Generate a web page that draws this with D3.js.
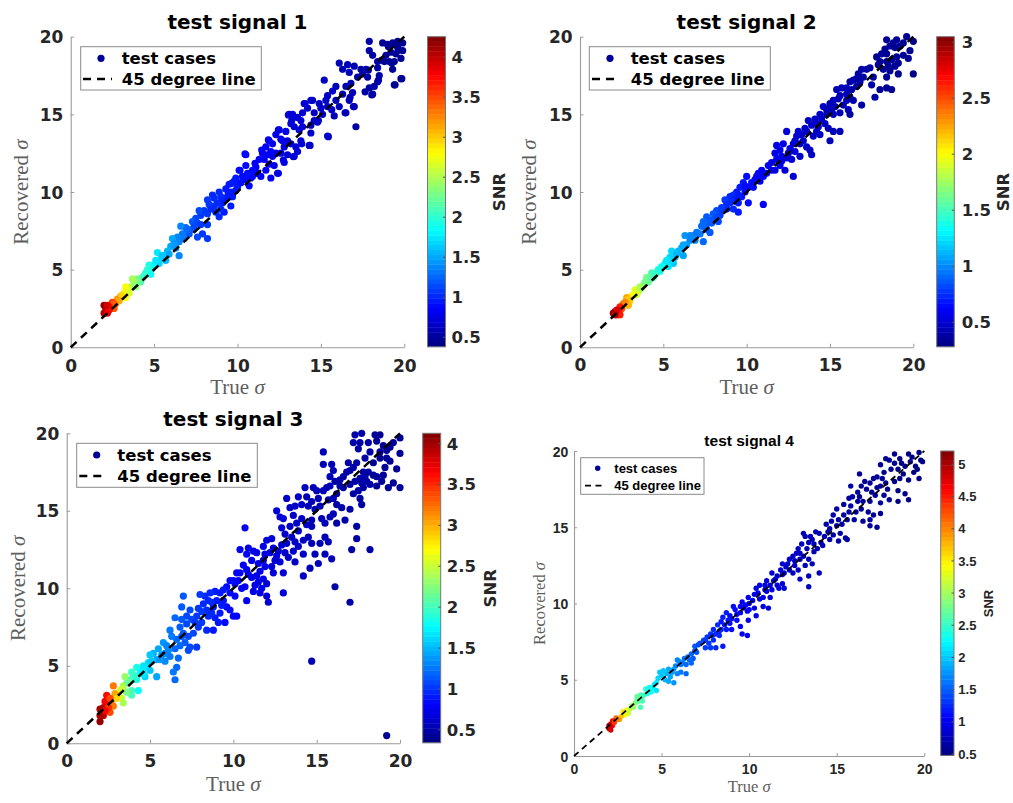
<!DOCTYPE html>
<html>
<head>
<meta charset="utf-8">
<script src="https://cdn.jsdelivr.net/npm/d3@7"></script>
<style>body{margin:0;background:#fff}</style>
</head>
<body>
<svg id="chart" width="1013" height="803"></svg>
<script>
// [true sigma, recovered sigma, SNR]
const signal1 = [
  [17.9,19.7,.52],[17.9,19.1,.52],[18.1,18.8,.51],[18.7,19.6,.49],[19.0,19.5,.48],[19.3,19.6,.47],[19.6,19.7,.46],[19.9,19.6,.45],[19.9,19.1,.45],[19.8,18.6,.45],
  [19.5,18.9,.46],[19.2,19.0,.47],[18.9,18.8,.48],[19.1,18.4,.48],[19.4,18.4,.47],[18.4,18.4,.5],[18.4,18.0,.5],[19.3,17.9,.47],[19.4,16.9,.47],[19.8,17.3,.45],
  [16.6,18.2,.58],[17.0,18.1,.56],[16.7,17.7,.57],[16.1,18.3,.6],[16.3,17.9,.59],[17.5,17.6,.54],[17.7,17.9,.53],[17.8,17.4,.53],[17.9,16.7,.52],[18.1,16.3,.51],
  [18.2,16.8,.51],[18.4,17.1,.5],[18.5,17.5,.5],[17.2,17.4,.55],[16.8,17.0,.57],[16.5,16.8,.58],[16.9,16.4,.56],[16.7,15.9,.57],[17.0,15.5,.56],[16.5,15.1,.58],
  [17.1,14.2,.55],[15.9,16.8,.61],[15.7,16.5,.62],[15.9,15.9,.61],[16.1,15.5,.6],[15.8,14.9,.61],[15.4,16.2,.63],[15.2,17.2,.63],[15.3,15.9,.63],[15.4,15.5,.63],
  [15.1,15.0,.64],[14.9,15.7,.65],[14.8,14.5,.65],[14.6,15.1,.66],[14.4,15.9,.67],[14.2,15.4,.67],[14.0,15.7,.68],[15.4,13.6,.63],[14.6,14.6,.66],[14.4,14.3,.67],
  [13.9,15.1,.69],[13.6,14.8,.7],[13.3,15.0,.72],[13.1,15.0,.73],[13.2,14.4,.72],[13.4,14.2,.71],[13.7,14.0,.7],[13.9,14.2,.69],[14.4,13.8,.67],[14.3,13.0,.67],
  [13.8,13.3,.69],[13.5,12.9,.71],[13.4,12.3,.71],[13.6,12.6,.7],[13.2,13.1,.72],[13.0,13.3,.73],[12.9,13.9,.74],[12.5,14.0,.76],[12.3,13.7,.77],[12.7,13.3,.75],
  [12.8,12.9,.75],[12.6,12.5,.76],[13.0,12.4,.73],[12.1,13.1,.78],[11.9,13.3,.8],[11.7,12.9,.81],[12.0,12.6,.8],[12.1,12.3,.78],[12.3,12.5,.77],[11.5,12.5,.82],
  [11.6,12.1,.82],[11.9,11.8,.8],[12.2,11.7,.78],[12.4,11.2,.77],[12.0,10.9,.8],[12.8,11.9,.75],[11.7,11.4,.81],[11.3,12.1,.83],[11.1,11.6,.84],[11.2,11.2,.84],
  [10.9,11.4,.86],[10.9,11.0,.86],[10.6,11.2,.88],[10.5,10.8,.88],[10.5,12.4,.88],[10.5,11.7,.88],[10.1,11.4,.91],[10.3,11.0,.9],[9.9,10.7,.93],[10.0,10.3,.92],
  [9.8,10.7,.93],[9.9,10.1,.93],[9.6,10.0,.95],[9.5,10.5,.95],[9.7,9.7,.94],[9.4,9.7,.96],[9.2,9.5,.97],[9.0,9.7,.99],[8.9,10.0,1.0],[9.1,9.3,.98],
  [8.8,9.3,1.0],[8.6,9.6,1.02],[8.5,9.8,1.03],[8.6,9.1,1.02],[8.3,9.2,1.05],[8.2,9.5,1.06],[8.0,8.8,1.08],[9.6,9.1,.95],[9.2,8.7,.97],[9.0,8.9,.99],
  [8.9,8.4,1.0],[8.2,8.6,1.06],[7.8,8.5,1.1],[7.7,8.8,1.12],[7.5,8.3,1.15],[7.3,8.1,1.18],[7.6,8.0,1.14],[7.8,7.9,1.1],[8.2,7.9,1.06],[7.9,7.3,1.09],
  [8.2,7.0,1.06],[7.6,7.1,1.14],[7.3,7.6,1.18],[7.1,7.3,1.22],[6.9,7.7,1.27],[6.6,7.8,1.35],[6.7,7.3,1.33],[6.4,7.1,1.4],[6.1,7.0,1.47],[6.5,6.8,1.38],
  [6.2,6.7,1.45],[6.0,6.5,1.5],[6.5,5.9,1.38],[5.8,6.2,1.55],[5.6,5.9,1.6],[5.7,5.6,1.58],[5.4,5.7,1.67],[5.2,6.1,1.73],[5.3,5.4,1.7],[5.0,5.3,1.8],
  [4.9,5.1,1.83],[4.7,5.3,1.9],[4.6,5.0,1.95],[4.8,4.7,1.87],[4.5,4.8,2.0],[4.3,4.5,2.12],[4.2,4.2,2.18],[4.0,4.4,2.3],[3.8,4.2,2.42],[3.7,4.4,2.48],
  [3.6,3.9,2.55],[3.4,3.7,2.7],[3.3,3.9,2.78],[3.2,3.5,2.85],[3.5,3.5,2.62],[3.3,3.2,2.78],[3.0,3.3,3.05],[2.8,3.1,3.22],[2.7,2.8,3.32],[2.5,2.9,3.55],
  [2.4,2.6,3.65],[2.6,2.5,3.45],[2.3,2.4,3.75],[2.1,2.5,3.95],[2.0,2.7,4.15],[2.0,2.2,4.05],[2.2,2.2,3.85],
  [14.05,15.7,.68],[14.5,15.9,.66],[13.05,14.96,.73],[13.25,14.6,.72],[12.45,14.0,.76],[11.85,13.35,.8],[11.45,12.7,.82],[10.45,12.45,.88],[11.05,11.85,.85],[10.15,11.4,.9],
  [9.65,10.55,.94],[9.45,9.9,.96],[12.45,11.2,.76],[12.75,12.06,.75],[13.35,12.27,.72],[13.85,13.1,.69],[14.35,13.0,.67],[15.45,13.56,.63],[14.85,14.6,.65],[15.65,15.3,.62],
  [16.45,15.1,.58],[16.95,15.5,.56],[16.75,16.1,.57],[17.65,16.45,.54],[18.05,16.25,.52],[18.45,17.2,.5],[17.85,17.85,.53],[18.65,18.5,.49],[19.25,18.3,.47],[19.45,16.9,.46],
  [19.85,17.3,.45],[19.65,19.15,.46],[19.05,19.35,.48],[8.4,8.9,1.04],[8.7,8.7,1.01],[9.3,10.2,.96],[10.2,10.6,.9],[10.7,10.4,.87],[11.4,11.0,.83],[11.8,12.4,.8],
  [7.0,7.6,1.23],[7.4,7.8,1.16],[6.8,7.0,1.3],[6.3,6.4,1.42],[5.9,6.0,1.52],[5.5,5.9,1.63],[5.1,5.6,1.76],[4.4,4.6,2.05],[3.9,3.9,2.35],[3.1,3.3,2.95],
  [2.9,3.0,3.12],[2.6,2.8,3.42],[2.3,2.6,3.75],[2.2,2.7,3.9],[12.6,13.4,.76],[13.8,14.6,.69],[15.0,15.4,.64],[16.3,16.3,.59],[17.4,17.9,.54],[18.8,18.4,.48],
  [19.6,19.3,.46],[10.8,10.9,.86],[9.9,10.9,.92]
];
const signal2 = [
  [19.6,20.0,.33],[19.0,19.8,.34],[18.4,19.8,.35],[18.8,19.6,.34],[20.0,19.7,.32],[19.8,19.1,.33],[19.2,19.4,.34],[18.6,19.4,.35],[18.1,18.9,.36],[17.8,18.7,.36],
  [18.4,18.9,.35],[19.0,18.7,.34],[19.4,18.8,.33],[19.7,18.6,.33],[18.7,18.5,.35],[18.4,18.4,.35],[18.0,18.4,.36],[19.1,18.3,.34],[18.9,18.1,.34],[18.5,18.1,.35],
  [18.2,17.9,.36],[18.6,17.8,.35],[19.1,17.6,.34],[20.0,17.6,.32],[18.4,17.4,.35],[17.6,17.4,.37],[17.2,17.9,.38],[16.9,17.9,.38],[16.7,17.6,.39],[16.4,17.2,.4],
  [16.2,17.1,.4],[16.8,17.1,.39],[17.5,16.9,.37],[17.7,16.1,.37],[18.0,16.6,.36],[18.4,16.7,.35],[18.7,16.6,.35],[16.6,16.8,.39],[16.3,16.6,.4],[16.0,16.7,.41],
  [15.7,16.7,.42],[15.4,16.6,.43],[15.6,16.2,.42],[16.2,16.1,.4],[16.4,15.9,.4],[16.0,15.9,.41],[16.9,15.6,.38],[15.8,15.6,.42],[15.2,15.9,.43],[15.0,15.7,.44],
  [15.3,15.5,.43],[14.9,15.4,.44],[14.6,15.5,.45],[16.1,15.3,.41],[15.6,15.1,.42],[16.2,15.0,.4],[15.2,15.0,.43],[14.8,15.0,.44],[14.4,15.0,.45],[14.1,14.7,.46],
  [13.7,14.6,.48],[13.9,14.3,.47],[14.3,14.2,.46],[14.7,14.4,.45],[14.9,14.1,.44],[15.2,13.9,.43],[15.6,13.9,.42],[15.0,13.3,.44],[14.2,13.9,.46],[14.4,13.7,.45],
  [14.0,13.6,.46],[13.6,13.9,.48],[13.3,13.7,.49],[13.0,13.6,.5],[12.8,13.1,.51],[13.2,13.1,.49],[13.6,12.9,.48],[13.8,12.7,.47],[13.9,12.4,.47],[13.2,12.3,.49],
  [12.9,12.6,.5],[12.6,12.8,.52],[12.4,13.9,.53],[12.2,13.1,.54],[12.0,12.7,.55],[11.8,13.0,.56],[11.7,12.5,.56],[12.1,12.3,.54],[12.4,12.2,.53],[12.7,12.1,.51],
  [11.8,12.1,.56],[12.0,11.7,.55],[12.3,11.4,.53],[12.8,11.0,.51],[11.7,11.4,.56],[11.3,11.7,.58],[11.2,11.2,.59],[11.0,11.0,.6],[10.7,11.2,.62],[10.8,10.7,.61],
  [10.5,10.8,.63],[10.4,10.3,.63],[10.0,11.0,.66],[10.1,10.3,.65],[9.8,10.6,.67],[9.9,10.0,.66],[9.6,10.3,.68],[9.7,9.7,.68],[9.4,10.0,.7],[9.2,9.8,.71],
  [9.0,9.7,.73],[9.3,9.5,.7],[9.5,9.3,.69],[9.2,8.9,.71],[9.0,9.3,.73],[8.8,8.9,.75],[8.7,9.5,.76],[10.1,9.3,.65],[11.0,9.2,.6],[9.5,8.7,.69],
  [8.5,8.8,.78],[8.4,8.5,.79],[8.2,8.8,.81],[8.0,8.6,.84],[7.9,8.2,.85],[8.3,8.1,.8],[7.6,8.4,.88],[7.7,8.0,.87],[7.4,8.1,.9],[7.3,7.8,.92],
  [7.6,7.6,.88],[7.8,7.4,.86],[7.2,7.3,.93],[7.4,6.8,.9],[6.8,7.2,.98],[6.6,6.9,1.0],[6.3,7.2,1.05],[6.4,6.6,1.03],[6.1,6.4,1.08],[6.2,5.9,1.06],
  [5.9,6.2,1.12],[5.7,5.8,1.16],[5.5,6.2,1.2],[5.4,5.8,1.22],[5.6,5.4,1.18],[5.3,5.2,1.25],[5.1,5.4,1.3],[4.9,5.2,1.35],[4.7,5.0,1.4],[4.6,4.8,1.43],
  [4.4,4.5,1.5],[4.3,4.8,1.53],[4.0,4.5,1.62],[4.1,4.2,1.58],[3.8,4.0,1.7],[3.6,3.9,1.78],[3.5,3.6,1.83],[3.3,3.7,1.92],[3.4,3.4,1.88],[3.1,3.3,2.02],
  [3.0,3.0,2.1],[2.9,2.7,2.18],[2.8,3.2,2.25],[2.6,2.8,2.42],[2.5,2.5,2.52],[2.3,2.4,2.7],[2.1,2.3,2.9],[2.2,2.1,2.8],[2.0,2.2,2.98],[2.4,2.1,2.62],
  [18.9,19.3,.34],[18.3,19.2,.35],[17.9,18.2,.36],[17.4,18.0,.37],[16.6,17.3,.39],[16.0,16.3,.41],[15.5,16.0,.42],[15.1,15.2,.43],[14.5,14.7,.45],[14.2,14.4,.46],
  [13.5,14.1,.48],[13.4,13.3,.49],[12.9,13.3,.5],[12.5,12.5,.52],[12.1,12.0,.54],[11.5,11.9,.57],[11.5,11.4,.57],[10.9,11.4,.61],[10.6,11.0,.62],[10.3,10.6,.64],
  [9.9,10.4,.66],[9.5,9.8,.69],[9.1,9.4,.72],[8.8,9.2,.75],[8.5,9.0,.78],[8.2,8.4,.81],[7.9,8.0,.85],[7.5,7.7,.89],[7.0,7.4,.95],[6.9,6.9,.97],
  [6.6,7.2,1.0],[6.2,6.6,1.06],[5.8,6.0,1.14],[5.5,5.6,1.2],[5.2,5.6,1.27],[4.8,4.9,1.38],[4.5,4.7,1.46],[4.2,4.4,1.55],[3.9,4.2,1.66],[3.7,3.8,1.75],
  [3.2,3.4,1.97],[2.9,3.1,2.15],[2.7,2.9,2.32],[2.4,2.6,2.62],[2.2,2.4,2.8],[2.1,2.1,2.9],[19.4,19.6,.33],[17.0,17.4,.38],[14.8,15.3,.44],[13.1,13.9,.5]
];
const signal3 = [
  [17.7,20.0,.47],[17.3,19.9,.48],[18.5,19.9,.45],[17.2,19.4,.48],[17.6,19.4,.47],[18.1,19.4,.46],[18.6,19.5,.45],[17.5,19.0,.47],[19.0,19.2,.44],[19.2,18.9,.43],
  [18.8,18.8,.44],[19.4,19.1,.43],[20.0,19.7,.42],[20.0,18.7,.42],[15.4,18.8,.54],[19.2,18.4,.43],[18.8,18.4,.44],[19.4,18.2,.43],[19.1,17.8,.44],[19.8,17.7,.42],
  [18.4,18.1,.45],[17.4,18.1,.48],[17.2,17.8,.48],[17.0,17.6,.49],[15.9,18.0,.52],[16.0,17.6,.52],[15.4,18.0,.54],[16.8,17.5,.49],[17.8,17.5,.47],[18.1,17.5,.46],
  [18.4,17.3,.45],[18.6,17.2,.45],[19.0,17.3,.44],[17.9,17.2,.47],[17.6,17.1,.47],[17.3,16.9,.48],[16.4,17.0,.51],[18.0,16.9,.46],[18.2,16.7,.46],[18.6,16.6,.45],
  [19.6,16.8,.43],[20.0,16.5,.42],[17.8,16.5,.47],[17.2,16.1,.48],[17.5,16.3,.47],[17.0,16.7,.49],[15.8,16.6,.53],[15.4,16.3,.54],[15.0,16.3,.55],[14.8,16.5,.56],
  [16.4,16.6,.51],[16.6,16.5,.5],[16.2,16.1,.51],[16.0,15.8,.52],[15.7,15.7,.53],[16.2,15.4,.51],[17.6,15.8,.47],[17.7,15.4,.47],[17.0,15.1,.49],[16.5,15.2,.5],
  [15.2,15.3,.55],[14.9,15.1,.56],[14.5,15.3,.57],[14.3,16.5,.58],[14.4,15.9,.57],[13.9,15.9,.6],[14.1,15.4,.59],[13.2,15.8,.63],[13.4,15.2,.62],[12.6,15.0,.66],
  [12.8,14.6,.65],[16.0,14.8,.52],[15.8,14.6,.53],[15.3,14.5,.55],[15.5,14.2,.54],[16.2,14.2,.51],[16.7,14.4,.5],[17.4,14.0,.48],[17.4,13.2,.48],[17.1,12.5,.49],
  [18.2,12.5,.46],[14.7,14.4,.57],[14.4,14.1,.58],[14.1,14.5,.59],[13.8,14.2,.6],[13.9,13.7,.6],[14.7,14.0,.57],[14.5,13.3,.57],[14.2,13.1,.58],[14.7,12.9,.57],
  [15.2,12.9,.55],[15.5,13.3,.54],[15.7,13.0,.53],[13.4,14.0,.62],[13.1,13.5,.63],[13.5,13.3,.61],[13.7,13.0,.61],[13.2,12.9,.63],[13.9,12.7,.6],[13.6,12.4,.61],
  [13.1,12.3,.63],[12.7,12.4,.65],[12.4,12.6,.67],[12.0,13.1,.69],[11.8,12.7,.7],[12.2,12.3,.68],[12.5,11.8,.67],[12.8,11.7,.65],[12.3,11.4,.68],[12.4,11.0,.67],
  [13.0,11.0,.64],[13.0,9.7,.64],[13.7,11.7,.61],[14.2,12.2,.58],[14.2,10.8,.58],[14.6,11.3,.57],[14.9,12.2,.56],[15.1,11.6,.55],[15.5,12.2,.54],[15.9,11.9,.52],
  [16.1,10.1,.51],[17.0,9.1,.49],[14.7,5.3,.57],[19.2,0.5,.43],[11.4,12.3,.72],[11.2,12.4,.73],[10.8,12.2,.76],[10.4,12.5,.78],[10.9,12.6,.75],[10.7,13.9,.76],
  [11.8,11.8,.7],[11.5,11.6,.72],[11.9,11.4,.7],[11.6,11.1,.71],[11.4,10.8,.72],[11.8,10.6,.7],[12.0,10.3,.69],[11.7,10.0,.71],[12.0,9.5,.69],[12.1,9.1,.69],
  [11.6,9.7,.71],[11.2,9.8,.73],[11.3,10.2,.73],[11.1,10.7,.74],[10.8,11.2,.76],[10.6,11.5,.77],[10.4,11.0,.78],[10.2,11.0,.8],[10.0,10.5,.82],[10.3,10.5,.79],
  [9.8,10.5,.83],[9.6,10.1,.85],[10.7,10.1,.76],[10.8,9.2,.76],[10.1,10.3,.81],[9.8,9.7,.83],[9.4,9.2,.87],[9.6,8.8,.85],[10.0,8.2,.82],[10.2,8.2,.8],
  [9.8,8.6,.83],[9.2,9.7,.89],[8.9,9.8,.91],[8.6,9.7,.94],[9.0,9.2,.9],[8.8,8.8,.92],[9.2,8.4,.89],[8.9,8.1,.91],[9.1,7.8,.9],[9.5,7.8,.86],
  [8.5,9.2,.95],[8.3,9.5,.97],[8.0,9.6,1.0],[8.2,9.0,.98],[7.9,8.7,1.01],[8.4,8.6,.96],[8.5,8.2,.95],[7.8,8.2,1.02],[8.1,7.8,.99],[8.4,7.3,.96],
  [8.8,7.3,.92],[7.9,7.5,1.01],[7.6,7.1,1.05],[7.5,8.0,1.06],[7.4,8.6,1.07],[7.2,8.2,1.1],[7.0,9.5,1.13],[6.9,8.8,1.15],[6.5,8.1,1.22],[6.9,8.0,1.15],
  [6.8,7.5,1.16],[7.0,7.1,1.13],[7.3,6.9,1.09],[7.4,6.2,1.07],[7.8,6.2,1.02],[7.3,6.0,1.09],[6.9,6.9,1.15],[6.6,6.7,1.2],[6.3,6.9,1.26],[6.2,7.3,1.28],
  [6.5,6.1,1.22],[6.1,6.0,1.3],[6.2,5.6,1.28],[6.7,5.5,1.18],[6.6,4.9,1.2],[6.4,4.6,1.24],[6.5,4.1,1.22],[5.9,5.3,1.34],[5.7,5.7,1.38],[5.5,6.1,1.42],
  [5.8,6.5,1.36],[5.4,5.4,1.45],[5.2,5.8,1.5],[5.4,4.3,1.45],[5.0,5.7,1.55],[4.9,5.2,1.58],[5.0,4.7,1.55],[4.7,4.3,1.63],[4.8,4.9,1.6],[4.5,4.7,1.7],
  [4.2,4.9,1.82],[4.4,4.5,1.74],[4.2,4.1,1.82],[3.9,4.6,1.98],[4.1,4.3,1.88],[3.8,4.1,2.05],[3.5,4.3,2.3],[3.6,3.9,2.2],[3.4,3.7,2.4],[3.9,3.4,2.0],
  [4.3,3.4,1.78],[3.9,3.1,2.0],[3.6,3.3,2.2],[3.2,3.4,2.65],[3.1,3.1,2.75],[3.3,2.9,2.5],[3.4,2.6,2.4],[2.9,3.2,3.0],[2.8,3.7,3.2],[2.7,2.8,3.3],
  [2.5,2.6,3.5],[2.8,2.4,3.2],[2.6,2.0,3.4],[2.4,3.1,3.6],[2.3,2.7,3.7],[2.2,2.3,3.85],[2.1,2.0,3.95],[2.0,2.2,4.0],[2.2,1.8,3.85],[2.0,1.4,4.05],
  [2.0,1.8,4.0],
  [18.8,19.9,.44],[19.6,19.4,.43],[18.2,18.8,.46],[17.9,18.4,.47],[16.9,18.1,.49],[16.6,17.2,.5],[17.7,16.8,.47],[18.9,16.9,.44],[19.3,16.5,.43],[16.1,16.9,.51],
  [15.6,16.5,.53],[15.1,15.8,.55],[14.7,15.6,.57],[13.7,15.3,.6],[13.0,14.5,.64],[13.6,14.7,.61],[12.9,13.9,.64],[12.3,13.2,.68],[12.9,12.8,.64],[12.6,12.1,.66],
  [11.9,12.2,.7],[11.1,11.8,.74],[10.9,10.9,.75],[11.5,10.4,.72],[10.5,10.0,.78],[10.1,9.5,.81],[9.4,9.9,.87],[9.3,8.9,.88],[8.7,8.4,.93],[8.1,8.5,.99],
  [8.7,9.1,.93],[7.7,7.8,1.03],[7.2,7.7,1.1],[7.1,6.5,1.12],[6.8,6.3,1.17],[6.0,6.3,1.32],[5.9,5.8,1.34],[5.6,5.4,1.4],[5.1,5.3,1.52],[4.6,5.0,1.67],
  [4.6,4.5,1.66],[4.0,4.4,1.94],[3.7,3.9,2.15],[3.3,3.5,2.5],[3.0,2.9,2.85],[2.6,2.9,3.4],[2.5,2.3,3.5],[2.3,2.1,3.7],[15.8,17.2,.53],[13.3,12.0,.62]
];
const signal4 = [
  [19.7,19.9,.5],[19.1,19.8,.52],[18.3,19.8,.54],[17.8,19.5,.55],[18.0,19.4,.55],[17.5,19.1,.56],[18.3,19.2,.54],[18.7,19.2,.53],[19.2,19.3,.52],[19.8,19.4,.5],
  [19.9,19.3,.5],[19.5,19.0,.51],[18.9,19.0,.53],[18.5,18.8,.54],[18.1,18.8,.55],[17.7,18.6,.56],[17.3,18.3,.57],[17.1,18.2,.58],[16.3,18.5,.61],[16.9,17.9,.59],
  [19.4,18.6,.51],[19.7,18.2,.5],[19.1,18.1,.52],[18.6,18.2,.54],[18.3,18.0,.54],[17.8,17.9,.56],[17.5,17.7,.57],[16.7,17.5,.6],[16.4,17.7,.61],[15.8,17.7,.63],
  [17.0,17.3,.58],[17.2,17.1,.58],[17.7,17.1,.56],[17.9,17.5,.55],[18.5,17.4,.54],[18.9,17.2,.53],[19.1,16.8,.52],[18.5,16.7,.54],[18.0,16.8,.55],[17.5,16.6,.57],
  [16.9,16.7,.59],[16.3,17.0,.61],[15.9,17.0,.63],[15.7,16.9,.64],[16.2,16.7,.62],[15.8,16.4,.63],[16.4,16.2,.61],[16.8,16.0,.6],[16.1,16.0,.62],[15.7,16.0,.64],
  [15.4,15.8,.65],[17.1,15.8,.58],[17.5,15.9,.57],[16.9,15.5,.59],[16.5,15.4,.6],[16.0,15.5,.62],[15.6,15.5,.64],[15.0,16.2,.66],[14.8,15.8,.67],[15.1,15.5,.66],
  [14.7,15.4,.68],[15.0,15.1,.66],[17.3,15.0,.57],[16.9,15.1,.59],[14.5,14.7,.69],[14.8,14.5,.67],[15.2,14.6,.66],[15.5,14.3,.65],[15.6,14.2,.64],[15.1,14.1,.66],
  [14.6,14.2,.68],[14.3,14.4,.7],[14.0,14.6,.71],[13.8,14.7,.72],[14.1,14.0,.71],[13.9,13.6,.72],[13.7,13.9,.73],[13.4,14.0,.75],[13.2,14.4,.76],[13.1,14.6,.76],
  [13.5,14.4,.74],[13.7,13.4,.73],[13.3,13.6,.75],[13.0,13.9,.77],[12.8,13.6,.78],[12.7,13.3,.79],[13.1,13.1,.76],[13.4,12.9,.75],[13.6,12.6,.74],[13.2,12.5,.76],
  [12.9,12.9,.78],[12.5,13.1,.8],[12.3,12.9,.81],[12.6,12.5,.79],[12.3,12.2,.81],[12.5,12.0,.8],[12.8,12.2,.78],[14.0,12.0,.71],[13.4,11.8,.75],[13.4,11.1,.75],
  [12.9,11.6,.78],[12.1,12.4,.83],[11.9,12.6,.84],[11.8,12.2,.85],[11.9,11.9,.84],[11.6,11.8,.86],[11.3,12.0,.88],[11.4,11.5,.88],[11.0,11.5,.91],[10.9,11.2,.92],
  [11.2,11.2,.89],[11.6,11.2,.86],[11.9,11.3,.84],[12.0,11.0,.84],[11.3,10.9,.88],[11.0,10.8,.91],[10.8,10.4,.93],[11.2,10.4,.89],[10.6,10.3,.95],[10.5,10.7,.96],
  [10.4,11.0,.97],[10.2,10.2,.99],[9.95,10.4,1.01],[10.0,10.0,1.0],[9.8,9.9,1.02],[9.6,10.1,1.05],[9.5,9.8,1.06],[9.9,9.5,1.01],[10.3,9.7,.98],[10.8,9.8,.93],
  [11.1,9.7,.9],[10.4,9.2,.97],[9.95,8.9,1.01],[9.5,9.4,1.06],[9.2,9.6,1.09],[9.1,9.8,1.1],[8.9,9.2,1.13],[8.7,9.4,1.15],[8.5,9.1,1.18],[8.4,8.8,1.2],
  [8.6,8.6,1.17],[8.9,8.7,1.13],[9.3,8.9,1.08],[9.5,8.5,1.06],[9.0,8.3,1.11],[8.7,8.3,1.15],[8.4,8.3,1.2],[8.1,8.0,1.24],[8.3,7.9,1.21],[7.96,8.3,1.27],
  [7.8,8.0,1.3],[7.6,7.8,1.33],[7.96,7.6,1.27],[7.7,7.4,1.32],[7.4,7.6,1.37],[7.2,7.4,1.41],[7.5,7.1,1.35],[7.8,7.1,1.3],[8.1,7.1,1.24],[8.5,7.2,1.18],
  [9.9,7.9,1.02],[9.6,8.0,1.05],[6.9,7.2,1.47],[7.0,6.8,1.45],[6.7,6.7,1.51],[6.8,6.4,1.49],[6.5,6.5,1.55],[6.3,6.4,1.6],[6.2,6.1,1.62],[6.4,6.0,1.57],
  [6.7,6.1,1.51],[5.9,6.3,1.69],[6.1,6.0,1.64],[5.8,5.9,1.72],[6.1,5.5,1.64],[6.4,5.4,1.57],[5.9,5.4,1.69],[5.6,5.5,1.78],[5.5,5.2,1.81],[5.3,5.4,1.88],
  [5.1,5.6,1.95],[4.9,5.5,2.02],[5.2,5.0,1.92],[5.4,4.9,1.85],[5.7,4.8,1.75],[4.8,5.1,2.06],[4.7,4.8,2.1],[4.5,4.5,2.2],[4.7,4.3,2.1],[4.4,4.2,2.25],
  [4.2,4.3,2.36],[4.1,4.4,2.42],[4.2,4.1,2.36],[4.0,4.0,2.48],[3.8,4.0,2.6],[3.6,3.9,2.75],[3.7,3.6,2.68],[3.9,3.6,2.55],[3.5,3.5,2.83],[3.8,3.2,2.6],
  [3.4,3.2,2.93],[3.2,3.1,3.1],[3.0,3.0,3.3],[3.1,2.8,3.2],[2.9,2.7,3.45],[2.7,2.6,3.7],[2.6,2.4,3.85],[2.4,2.5,4.15],[2.3,2.3,4.35],[2.2,2.0,4.55],
  [2.2,2.3,4.55],[2.1,2.1,4.8],[2.0,1.8,5.0],[2.1,1.7,4.8],
  [19.3,19.6,.51],[18.6,19.5,.53],[19.6,18.8,.5],[18.8,18.5,.53],[17.6,18.2,.56],[16.6,18.0,.6],[17.3,17.6,.57],[16.5,16.7,.6],[16.2,17.3,.61],[15.4,16.5,.65],
  [15.3,15.2,.65],[14.4,15.2,.69],[14.6,14.9,.68],[14.2,13.8,.7],[13.6,14.2,.73],[12.9,13.3,.77],[12.6,12.8,.79],[12.2,12.6,.82],[12.0,12.0,.83],[11.5,11.6,.87],
  [11.7,11.0,.86],[10.9,10.9,.92],[10.6,11.2,.94],[10.3,10.6,.97],[10.0,9.6,1.0],[9.7,9.7,1.03],[9.3,9.3,1.08],[9.0,9.0,1.11],[8.8,8.9,1.14],[8.2,8.6,1.22],
  [8.3,8.2,1.21],[7.9,7.9,1.28],[7.5,7.6,1.35],[7.1,7.3,1.43],[6.9,6.9,1.47],[6.6,6.3,1.53],[6.0,6.2,1.67],[5.7,5.7,1.75],[5.4,5.7,1.85],[5.0,5.3,1.98],
  [4.6,4.7,2.15],[4.3,4.5,2.3],[3.9,3.9,2.55],[3.6,3.7,2.75],[3.3,3.3,3.0],[2.8,2.9,3.55],[2.5,2.4,4.0],[2.3,2.2,4.35],[2.0,2.0,5.0],[2.1,1.9,4.8]
];

const titles = ["test signal 1", "test signal 2", "test signal 3", "test signal 4"];
const legendLabels = ["test cases", "45 degree line"];
const axisTicks = [0, 5, 10, 15, 20];
const diagonal = [0, 20];
const snrRange1 = [0.375, 4.25];
const snrRange2 = [0.277, 3.045];
const snrRange3 = [0.337, 4.12];
const snrRange4 = [0.47, 5.2];
const snrTicks1 = [0.5, 1, 1.5, 2, 2.5, 3, 3.5, 4];
const snrTicks2 = [0.5, 1, 1.5, 2, 2.5, 3];
const snrTicks3 = [0.5, 1, 1.5, 2, 2.5, 3, 3.5, 4];
const snrTicks4 = [0.5, 1, 1.5, 2, 2.5, 3, 3.5, 4, 4.5, 5];

const svg = d3.select("#chart");

// MATLAB jet, 64 steps
function jet(t) {
  const i = Math.max(0, Math.min(63, Math.floor(t * 64)));
  const u = (i + 0.5) / 64;
  const c = v => Math.round(255 * Math.max(0, Math.min(1, v)));
  return d3.rgb(c(1.5 - Math.abs(4 * u - 3)), c(1.5 - Math.abs(4 * u - 2)), c(1.5 - Math.abs(4 * u - 1))).toString();
}

const big = { font: "DejaVu Sans", tick: 17, title: 20, leg: 16.5, cb: 16.5, serif: 21, r: 3.6, lw: 2.5, dash: "8,6", tickLen: 3.5 };
const small = { font: "Liberation Sans", tick: 14, title: 15.5, leg: 13, cb: 13, serif: 16.5, r: 2.7, lw: 1.8, dash: "6,4.5", tickLen: 3 };

const panels = [
  { pts: signal1, title: titles[0], range: snrRange1, cbTicks: snrTicks1, st: big,
    x0: 70.7, x1: 404.3, yb: 347.3, yt: 36.7, cbx: 427.5, cbw: 18, cbLab: 6,
    titleY: 29, xTickY: 24.4, yTickX: 7.4, yLabX: 28, xLabY: 394, snrX: 505,
    leg: { x: 80.7, y: 46.7, w: 180.6, h: 43.3, mx: 101, l1: 58.3, l2: 79, tx: 121.7, d0: 83, d1: 112 } },
  { pts: signal2, title: titles[1], range: snrRange2, cbTicks: snrTicks2, st: big,
    x0: 580, x1: 913.3, yb: 347.3, yt: 36.7, cbx: 936.7, cbw: 17.6, cbLab: 7.4,
    titleY: 29, xTickY: 24, yTickX: 7.3, yLabX: 536, xLabY: 394, snrX: 1009,
    leg: { x: 589.3, y: 46.7, w: 181, h: 43.3, mx: 610, l1: 58.3, l2: 79, tx: 630.7, d0: 592, d1: 620 } },
  { pts: signal3, title: titles[2], range: snrRange3, cbTicks: snrTicks3, st: big,
    x0: 66.7, x1: 400, yb: 743.3, yt: 433.3, cbx: 422.7, cbw: 18, cbLab: 6,
    titleY: 426, xTickY: 23.4, yTickX: 7.4, yLabX: 24.5, xLabY: 790.7, snrX: 496,
    leg: { x: 76.7, y: 443.3, w: 180.6, h: 44, mx: 96.7, l1: 455, l2: 476, tx: 117.3, d0: 79.3, d1: 107.3 } },
  { pts: signal4, title: titles[3], range: snrRange4, cbTicks: snrTicks4, st: small,
    x0: 574, x1: 924.3, yb: 756, yt: 451, cbx: 940.7, cbw: 13.3, cbLab: 4.3,
    titleY: 445.7, xTickY: 18.3, yTickX: 5.7, yLabX: 544.5, xLabY: 792.3, snrX: 993,
    leg: { x: 580.7, y: 457.7, w: 123.3, h: 36.6, mx: 597.7, l1: 468.3, l2: 485.7, tx: 614.3, d0: 585, d1: 605 } }
];

panels.forEach(p => {
  const st = p.st;
  const x = d3.scaleLinear().domain([0, 20]).range([p.x0, p.x1]);
  const y = d3.scaleLinear().domain([0, 20]).range([p.yb, p.yt]);
  const c = d3.scaleLinear().domain(p.range).range([0, 1]);
  const g = svg.append("g");

  // axes (box off, ticks pointing in)
  const xAxis = g.append("g").attr("transform", `translate(0,${p.yb})`)
    .call(d3.axisBottom(x).tickValues(axisTicks).tickSizeInner(-st.tickLen).tickSizeOuter(0));
  xAxis.selectAll("text").attr("y", p.xTickY).attr("dy", null);
  const yAxis = g.append("g").attr("transform", `translate(${p.x0},0)`)
    .call(d3.axisLeft(y).tickValues(axisTicks).tickSizeInner(-st.tickLen).tickSizeOuter(0));
  yAxis.selectAll("text").attr("x", -p.yTickX).attr("dy", "0.36em");
  [xAxis, yAxis].forEach(a => {
    a.select(".domain").attr("stroke", "#9a9a9a").attr("stroke-width", 1.1);
    a.selectAll(".tick line").attr("stroke", "#9a9a9a");
    a.selectAll("text").attr("fill", "#262626").attr("font-family", st.font)
      .attr("font-weight", "bold").attr("font-size", st.tick);
  });

  // scatter
  g.append("g").selectAll("circle").data(p.pts).join("circle")
    .attr("cx", d => x(d[0]))
    .attr("cy", d => y(d[1]))
    .attr("r", st.r)
    .attr("fill", d => jet(c(d[2])));

  // 45 degree line
  g.append("line")
    .attr("x1", x(diagonal[0])).attr("y1", y(diagonal[0]))
    .attr("x2", x(diagonal[1])).attr("y2", y(diagonal[1]))
    .attr("stroke", "#000").attr("stroke-width", st.lw).attr("stroke-dasharray", st.dash);

  // title
  g.append("text").attr("x", (p.x0 + p.x1) / 2).attr("y", p.titleY)
    .attr("text-anchor", "middle").attr("font-family", st.font).attr("font-weight", "bold")
    .attr("font-size", st.title).attr("fill", "#000").text(p.title);

  // axis labels (latex style)
  const xl = g.append("text").attr("x", (p.x0 + p.x1) / 2).attr("y", p.xLabY)
    .attr("text-anchor", "middle").attr("font-family", "Liberation Serif")
    .attr("font-size", st.serif).attr("fill", "#5e5e5e");
  xl.append("tspan").text("True ");
  xl.append("tspan").attr("font-style", "italic").text("σ");
  const ym = (p.yb + p.yt) / 2;
  const yl = g.append("text").attr("transform", `translate(${p.yLabX},${ym}) rotate(-90)`)
    .attr("text-anchor", "middle").attr("font-family", "Liberation Serif")
    .attr("font-size", st.serif).attr("fill", "#5e5e5e");
  yl.append("tspan").text("Recovered ");
  yl.append("tspan").attr("font-style", "italic").text("σ");

  // legend
  const L = p.leg;
  g.append("rect").attr("x", L.x).attr("y", L.y).attr("width", L.w).attr("height", L.h)
    .attr("fill", "#fff").attr("stroke", "#8a8a8a").attr("stroke-width", 1);
  g.append("circle").attr("cx", L.mx).attr("cy", L.l1).attr("r", st.r).attr("fill", jet(0.02));
  g.append("line").attr("x1", L.d0).attr("x2", L.d1).attr("y1", L.l2).attr("y2", L.l2)
    .attr("stroke", "#000").attr("stroke-width", st.lw).attr("stroke-dasharray", st.dash);
  [L.l1, L.l2].forEach((ly, i) => {
    g.append("text").attr("x", L.tx).attr("y", ly).attr("dy", "0.36em")
      .attr("font-family", st.font).attr("font-weight", "bold").attr("font-size", st.leg)
      .attr("fill", "#000").text(legendLabels[i]);
  });

  // colorbar
  const cb = d3.scaleLinear().domain(p.range).range([p.yb - 0.6, p.yt]);
  const steps = d3.range(64);
  const hStep = (p.yb - 0.6 - p.yt) / 64;
  g.append("g").selectAll("rect").data(steps).join("rect")
    .attr("x", p.cbx).attr("width", p.cbw)
    .attr("y", i => p.yb - 0.6 - (i + 1) * hStep).attr("height", hStep + 0.4)
    .attr("fill", i => jet((i + 0.5) / 64));
  g.append("rect").attr("x", p.cbx).attr("y", p.yt).attr("width", p.cbw).attr("height", p.yb - 0.6 - p.yt)
    .attr("fill", "none").attr("stroke", "#777").attr("stroke-width", 1);
  const cbAxis = g.append("g").attr("transform", `translate(${p.cbx + p.cbw},0)`)
    .call(d3.axisRight(cb).tickValues(p.cbTicks).tickFormat(d3.format("")).tickSizeInner(-2.5).tickSizeOuter(0));
  cbAxis.select(".domain").remove();
  cbAxis.selectAll(".tick line").attr("stroke", "#555");
  cbAxis.selectAll("text").attr("x", p.cbLab).attr("dy", "0.36em").attr("fill", "#262626")
    .attr("font-family", st.font).attr("font-weight", "bold").attr("font-size", st.cb);
  g.append("text").attr("transform", `translate(${p.snrX},${ym}) rotate(-90)`)
    .attr("text-anchor", "middle").attr("font-family", st.font).attr("font-weight", "bold")
    .attr("font-size", st.cb).attr("fill", "#262626").text("SNR");
});
</script>
</body>
</html>
